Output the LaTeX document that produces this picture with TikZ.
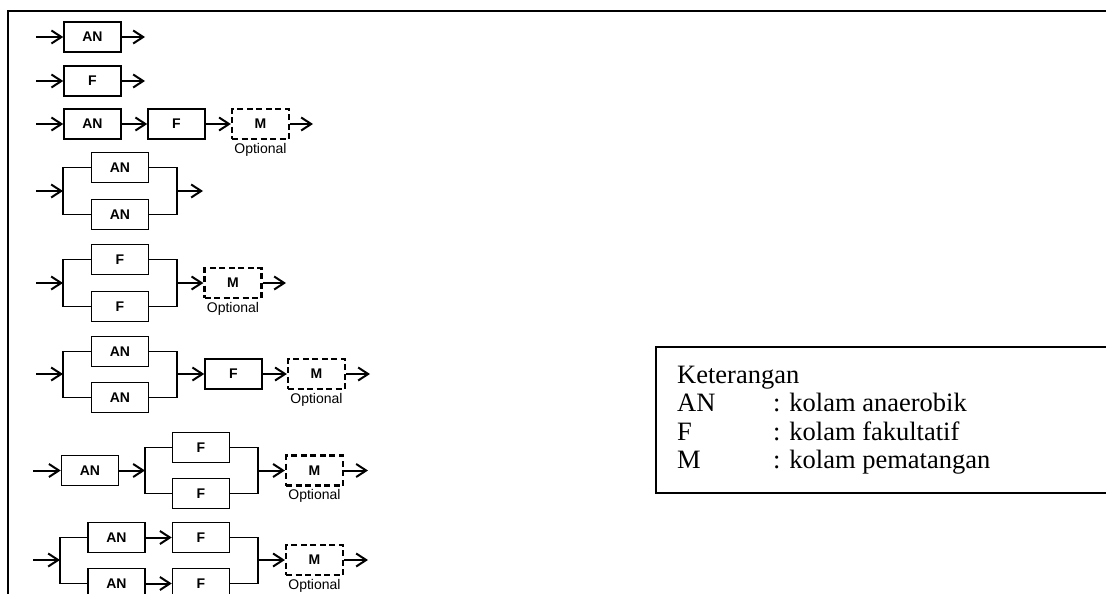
\documentclass[tikz,border=0pt]{standalone}
\usepackage{fontspec}
\setmainfont{Liberation Serif}
\newfontfamily\arialfont{Liberation Sans}
\usetikzlibrary{arrows.meta}
\begin{document}
\begin{tikzpicture}[x=1pt,y=-1pt,
  pond/.style={draw, line width=1.5pt, minimum width=57pt, minimum height=30pt, inner sep=0pt, font=\arialfont\bfseries\fontsize{14}{16}\selectfont},
  opt/.style={pond, dash pattern=on 6pt off 3.5pt, line width=2.2pt},
  flow/.style={line width=2pt, -{Straight Barb[length=10pt,width=13pt]}},
  wire/.style={line width=1.5pt},
  optlabel/.style={anchor=north, inner sep=0pt, yshift=-3pt, font=\arialfont\fontsize{14}{16}\selectfont},
  legend/.style={anchor=base west, inner sep=0pt, font=\fontsize{26.5}{30}\selectfont},
]
\useasboundingbox (0,0) rectangle (1106,594);
% outer frame
\draw[line width=2.5pt] (8,594) -- (8,11) -- (1106,11);

% row 1
\node[pond] (r1a) at (92.5,37) {AN};
\coordinate (r1i) at (36,37); \coordinate (r1o) at (145,37);
\draw[flow] (r1i) -- (r1a); \draw[flow] (r1a) -- (r1o);

% row 2
\node[pond] (r2a) at (92.5,81) {F};
\coordinate (r2i) at (36,81); \coordinate (r2o) at (145,81);
\draw[flow] (r2i) -- (r2a); \draw[flow] (r2a) -- (r2o);

% row 3
\node[pond] (r3a) at (92.5,124) {AN};
\node[pond] (r3b) at (176.5,124) {F};
\node[opt] (r3m) at (260.5,124) {M};
\node[optlabel] (r3l) at (r3m.south) {Optional};
\coordinate (r3i) at (36,124); \coordinate (r3o) at (313,124);
\draw[flow] (r3i) -- (r3a); \draw[flow] (r3a) -- (r3b);
\draw[flow] (r3b) -- (r3m); \draw[flow] (r3m) -- (r3o);

% row 4
\node[pond] (r4a) at (120,167.5) {AN};
\node[pond] (r4b) at (120,214.5) {AN};
\coordinate (r4i) at (36,191); \coordinate (r4s) at (63,191);
\coordinate (r4j) at (177,191); \coordinate (r4o) at (203,191);
\draw[wire] (r4a.west) -| (r4s) |- (r4b.west);
\draw[wire] (r4a.east) -| (r4j) |- (r4b.east);
\draw[flow] (r4i) -- (r4s); \draw[flow] (r4j) -- (r4o);

% row 5
\node[pond] (r5a) at (120,259.5) {F};
\node[pond] (r5b) at (120,306.5) {F};
\node[opt] (r5m) at (233,283) {M};
\node[optlabel] (r5l) at (r5m.south) {Optional};
\coordinate (r5i) at (36,283); \coordinate (r5s) at (63,283);
\coordinate (r5j) at (177,283); \coordinate (r5o) at (286,283);
\draw[wire] (r5a.west) -| (r5s) |- (r5b.west);
\draw[wire] (r5a.east) -| (r5j) |- (r5b.east);
\draw[flow] (r5i) -- (r5s); \draw[flow] (r5j) -- (r5m); \draw[flow] (r5m) -- (r5o);

% row 6
\node[pond] (r6a) at (120,351.5) {AN};
\node[pond] (r6b) at (120,397.5) {AN};
\node[pond] (r6f) at (233.5,374) {F};
\node[opt] (r6m) at (316.5,374) {M};
\node[optlabel] (r6l) at (r6m.south) {Optional};
\coordinate (r6i) at (36,374); \coordinate (r6s) at (63,374);
\coordinate (r6j) at (177,374); \coordinate (r6o) at (370,374);
\draw[wire] (r6a.west) -| (r6s) |- (r6b.west);
\draw[wire] (r6a.east) -| (r6j) |- (r6b.east);
\draw[flow] (r6i) -- (r6s); \draw[flow] (r6j) -- (r6f);
\draw[flow] (r6f) -- (r6m); \draw[flow] (r6m) -- (r6o);

% row 7
\node[pond] (r7a) at (90,470.5) {AN};
\node[pond] (r7b) at (201,447.5) {F};
\node[pond] (r7c) at (201,493.5) {F};
\node[opt] (r7m) at (314.5,470.5) {M};
\node[optlabel] (r7l) at (r7m.south) {Optional};
\coordinate (r7i) at (33,470.5); \coordinate (r7s) at (145,470.5);
\coordinate (r7j) at (258,470.5); \coordinate (r7o) at (368,470.5);
\draw[wire] (r7b.west) -| (r7s) |- (r7c.west);
\draw[wire] (r7b.east) -| (r7j) |- (r7c.east);
\draw[flow] (r7i) -- (r7a); \draw[flow] (r7a) -- (r7s);
\draw[flow] (r7j) -- (r7m); \draw[flow] (r7m) -- (r7o);

% row 8
\node[pond] (r8a) at (116.5,537.5) {AN};
\node[pond] (r8b) at (201,537.5) {F};
\node[pond] (r8c) at (116.5,583.5) {AN};
\node[pond] (r8d) at (201,583.5) {F};
\node[opt] (r8m) at (314.5,560) {M};
\node[optlabel] (r8l) at (r8m.south) {Optional};
\coordinate (r8i) at (33,560); \coordinate (r8s) at (60,560);
\coordinate (r8j) at (258,560); \coordinate (r8o) at (368,560);
\draw[wire] (r8a.west) -| (r8s) |- (r8c.west);
\draw[wire] (r8b.east) -| (r8j) |- (r8d.east);
\draw[flow] (r8a) -- (r8b); \draw[flow] (r8c) -- (r8d);
\draw[flow] (r8i) -- (r8s); \draw[flow] (r8j) -- (r8m); \draw[flow] (r8m) -- (r8o);

% legend
\draw[line width=2pt] (1106,347) -- (656,347) -- (656,493) -- (1106,493);
\node[legend] (k0) at (677,383) {Keterangan};
\node[legend] (k1) at (677,411.5) {AN};
\node[legend] (k1t) at (773,411.5) {: kolam anaerobik};
\node[legend] (k2) at (677,440) {F};
\node[legend] (k2t) at (773,440) {: kolam fakultatif};
\node[legend] (k3) at (677,468.5) {M};
\node[legend] (k3t) at (773,468.5) {: kolam pematangan};
\end{tikzpicture}
\end{document}
